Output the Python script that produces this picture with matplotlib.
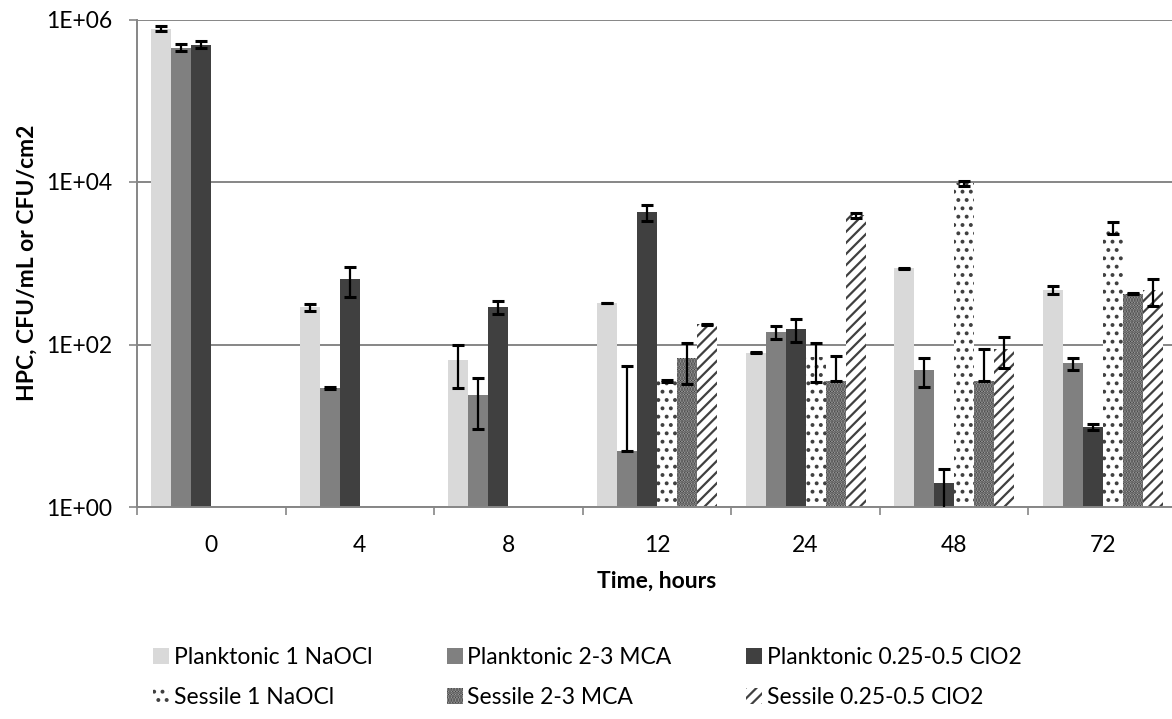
import numpy as np
import matplotlib
matplotlib.use('Agg')
import matplotlib.pyplot as plt
from matplotlib.patches import Patch
from matplotlib.ticker import FixedLocator, NullLocator

plt.rcParams['font.family'] = ['Lato', 'DejaVu Sans']
plt.rcParams['hatch.linewidth'] = 1.6

times = ['0', '4', '8', '12', '24', '48', '72']
series = ['Planktonic 1 NaOCl', 'Planktonic 2-3 MCA', 'Planktonic 0.25-0.5 ClO2',
          'Sessile 1 NaOCl', 'Sessile 2-3 MCA', 'Sessile 0.25-0.5 ClO2']

nan = np.nan
plank_naocl = [7.7e5, 286, 64, 323, 79, 863, 467]
plank_naocl_err = [5.5e4, 25, 35, 3, 1, 10, 53]
plank_mca = [4.5e5, 29, 24, 4.9, 142, 49, 58.5]
plank_mca_err = [4.5e4, 1, 15, 49, 25, 19, 9.6]
plank_clo2 = [4.9e5, 637, 291, 4250, 156, 1.95, 9.7]
plank_clo2_err = [4.8e4, 250, 52, 900, 50, 1.0, 0.9]
sess_naocl = [nan, nan, nan, 35.5, 70, 9590, 2750]
sess_naocl_err = [nan, nan, nan, 1, 35, 700, 470]
sess_mca = [nan, nan, nan, 69, 35.5, 35.5, 421]
sess_mca_err = [nan, nan, nan, 36, 36, 53, 5]
sess_clo2 = [nan, nan, nan, 178, 3900, 87, 470]
sess_clo2_err = [nan, nan, nan, 3, 280, 36, 175]

values = [plank_naocl, plank_mca, plank_clo2, sess_naocl, sess_mca, sess_clo2]
errors = [plank_naocl_err, plank_mca_err, plank_clo2_err, sess_naocl_err, sess_mca_err, sess_clo2_err]

# (facecolor, hatchcolor, hatch)
styles = [('#d9d9d9', None, None),
          ('#808080', None, None),
          ('#404040', None, None),
          ('white', '#404040', '..'),
          ('#b4b4b4', '#3a3a3a', '......'),
          ('white', '#404040', '///')]

GRID = '#868686'
FS = 16.5

fig = plt.figure(figsize=(11.72, 7.19), dpi=100)
ax = fig.add_axes([137 / 1172, 1 - 507 / 719, 1040 / 1172, (507 - 19.5) / 719])

x = np.arange(len(times))
width = 20 / 148.6

for j, (vals, errs) in enumerate(zip(values, errors)):
    vals = np.array(vals, dtype=float)
    errs = np.array(errs, dtype=float)
    ok = ~np.isnan(vals)
    xs = x[ok] + (j - 2.5) * width
    fc, hc, hatch = styles[j]
    if hatch:
        ax.bar(xs, vals[ok], width, color=fc, edgecolor=hc, hatch=hatch, linewidth=0, zorder=2)
    else:
        ax.bar(xs, vals[ok], width, color=fc, linewidth=0, zorder=2)
    # lower whisker is dropped where it would go below zero
    lo = np.where(vals[ok] - errs[ok] > 0, errs[ok], 0)
    ax.errorbar(xs, vals[ok], yerr=[lo, errs[ok]], fmt='none', ecolor='black',
                elinewidth=1.6, capsize=4.5, capthick=2.2, zorder=3)

ax.set_yscale('log')
ax.set_ylim(1, 1e6)
ax.set_xlim(-0.5, len(times) - 0.5)

ax.yaxis.set_major_locator(FixedLocator([1, 1e2, 1e4, 1e6]))
ax.yaxis.set_minor_locator(NullLocator())
ax.set_yticklabels(['1E+00', '1E+02', '1E+04', '1E+06'])
ax.grid(axis='y', color=GRID, linewidth=1.4, zorder=0)
ax.set_axisbelow(True)

ax.set_xticks(x)
ax.set_xticklabels(times)
ax.set_xticks(np.arange(len(times) + 1) - 0.5, minor=True)
ax.tick_params(axis='x', which='major', length=0, pad=20, labelsize=FS)
ax.tick_params(axis='x', which='minor', length=6, width=1.2, color=GRID)
ax.tick_params(axis='y', which='major', length=6, width=1.2, color=GRID, labelsize=FS, pad=12)

for side in ['top', 'right']:
    ax.spines[side].set_visible(False)
for side in ['left', 'bottom']:
    ax.spines[side].set_color(GRID)
    ax.spines[side].set_linewidth(1.4)

ax.set_xlabel('Time, hours', fontsize=FS, fontweight='bold', labelpad=11)
ax.set_ylabel('HPC, CFU/mL or CFU/cm2', fontsize=FS, fontweight='bold', labelpad=6)

handles = []
for (fc, hc, hatch), name in zip(styles, series):
    if hatch:
        handles.append(Patch(facecolor=fc, edgecolor=hc, hatch=hatch, linewidth=0, label=name))
    else:
        handles.append(Patch(facecolor=fc, linewidth=0, label=name))

# legend fills column by column, so interleave to read across rows
order = [0, 3, 1, 4, 2, 5]
fig.legend(handles=[handles[i] for i in order], ncol=3, loc='upper left',
           bbox_to_anchor=(153 / 1172, 1 - 647 / 719),
           frameon=False, fontsize=FS, handlelength=0.7, handleheight=0.7,
           handletextpad=0.2, columnspacing=3.25, labelspacing=0.82, borderaxespad=0,
           borderpad=0)

fig.savefig('out.png', dpi=100)
